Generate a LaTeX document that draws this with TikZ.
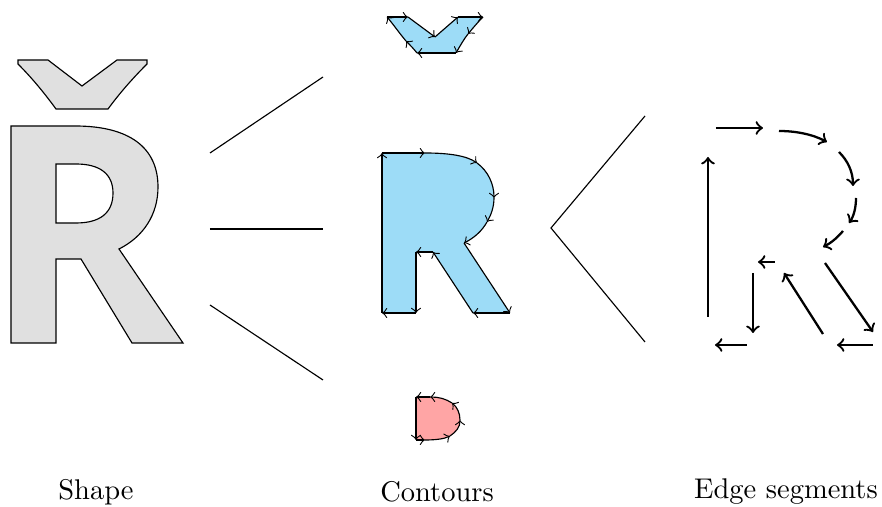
\documentclass[tikz,border=0pt]{standalone}
\usepackage{xcolor}
\usepackage{tikz}
\definecolor{shapegray}{HTML}{E0E0E0}
\definecolor{contourblue}{HTML}{9DDCF7}
\definecolor{holered}{HTML}{FFA5A5}

\tikzset{
  contour/.style={->, line width=0.4pt},
  segment/.style={->, thick},
}

\begin{document}
\begin{tikzpicture}[x=0.01233cm, y=-0.01233cm]
  \useasboundingbox (0,0) rectangle (882,507);

  % Shape -- the letter
  \draw[fill=shapegray, even odd rule]
    (11,126) -- (75,126) .. controls (130,126) and (158,148) .. (158,187)
    .. controls (158,215) and (143,237) .. (119,249)
    -- (183,343) -- (132,343) -- (81,259) -- (56,259) -- (56,343) -- (11,343) -- cycle
    (56,164) -- (76,164) .. controls (100,164) and (113,174) .. (113,193)
    .. controls (113,213) and (100,223) .. (76,223) -- (56,223) -- cycle;
  \draw[fill=shapegray] (18,60) -- (48,60) -- (82,86) -- (117,60) -- (147,60) -- (147,64)
    .. controls (132,79) and (119,94) .. (108,109) -- (56,109)
    .. controls (45,94) and (33,79) .. (18,64) -- cycle;

  % Fan between Shape and Contours
  \draw (210,153) -- (323,77);
  \draw (210,229) -- (323,229);
  \draw (210,305) -- (323,380);

  % Contours -- outer R
  \coordinate (r1) at (382,313);
  \coordinate (r2) at (382,153);
  \coordinate (r3) at (425,153);
  \coordinate (r4) at (477,163);
  \coordinate (r5) at (494,198);
  \coordinate (r6) at (487,222);
  \coordinate (r7) at (464,243);
  \coordinate (r8) at (510,313);
  \coordinate (r9) at (473,313);
  \coordinate (r10) at (433,252);
  \coordinate (r11) at (416,252);
  \coordinate (r12) at (416,313);
  \fill[contourblue] (r1) -- (r2) -- (r3) .. controls (450,153) and (467,156) .. (r4)
    .. controls (488,171) and (494,184) .. (r5) .. controls (494,207) and (491,215) .. (r6)
    .. controls (482,231) and (474,238) .. (r7) -- (r8) -- (r9) -- (r10) -- (r11) -- (r12) -- cycle;
  \draw[contour] (r1) -- (r2);
  \draw[contour] (r2) -- (r3);
  \draw[contour] (r3) .. controls (450,153) and (467,156) .. (r4);
  \draw[contour] (r4) .. controls (488,171) and (494,184) .. (r5);
  \draw[contour] (r5) .. controls (494,207) and (491,215) .. (r6);
  \draw[contour] (r6) .. controls (482,231) and (474,238) .. (r7);
  \draw[contour] (r7) -- (r8);
  \draw[contour] (r8) -- (r9);
  \draw[contour] (r9) -- (r10);
  \draw[contour] (r10) -- (r11);
  \draw[contour] (r11) -- (r12);
  \draw[contour] (r12) -- (r1);

  % Contours -- caron
  \coordinate (k1) at (387,17);
  \coordinate (k2) at (408,17);
  \coordinate (k3) at (435,37);
  \coordinate (k4) at (458,17);
  \coordinate (k5) at (483,17);
  \coordinate (k6) at (468,34);
  \coordinate (k7) at (456,53);
  \coordinate (k8) at (417,53);
  \coordinate (k9) at (406,41);
  \fill[contourblue] (k1) -- (k2) -- (k3) -- (k4) -- (k5)
    .. controls (478,22) and (473,28) .. (k6) .. controls (464,39) and (460,46) .. (k7)
    -- (k8) .. controls (413,48) and (410,45) .. (k9) .. controls (400,34) and (393,24) .. (k1);
  \draw[contour] (k1) -- (k2);
  \draw[contour] (k2) -- (k3);
  \draw[contour] (k3) -- (k4);
  \draw[contour] (k4) -- (k5);
  \draw[contour] (k5) .. controls (478,22) and (473,28) .. (k6);
  \draw[contour] (k6) .. controls (464,39) and (460,46) .. (k7);
  \draw[contour] (k7) -- (k8);
  \draw[contour] (k8) .. controls (413,48) and (410,45) .. (k9);
  \draw[contour] (k9) .. controls (400,34) and (393,24) .. (k1);

  % Contours -- hole
  \coordinate (d1) at (416,397);
  \coordinate (d2) at (416,440);
  \coordinate (d3) at (425,440);
  \coordinate (d4) at (450,436);
  \coordinate (d5) at (460,420);
  \coordinate (d6) at (452,403);
  \coordinate (d7) at (430,397);
  \fill[holered] (d1) -- (d2) -- (d3) .. controls (435,440) and (444,439) .. (d4)
    .. controls (456,432) and (460,427) .. (d5) .. controls (460,413) and (457,407) .. (d6)
    .. controls (446,399) and (439,397) .. (d7) -- cycle;
  \draw[contour] (d1) -- (d2);
  \draw[contour] (d2) -- (d3);
  \draw[contour] (d3) .. controls (435,440) and (444,439) .. (d4);
  \draw[contour] (d4) .. controls (456,432) and (460,427) .. (d5);
  \draw[contour] (d5) .. controls (460,413) and (457,407) .. (d6);
  \draw[contour] (d6) .. controls (446,399) and (439,397) .. (d7);
  \draw[contour] (d7) -- (d1);

  % Fan between Contours and Edge segments
  \draw (645,116) -- (551,228) -- (645,342);

  % Edge segments
  \draw[segment] (708,317) -- (708,157);
  \draw[segment] (716,128) -- (763,128);
  \draw[segment] (779,131) .. controls (795,131) and (812,134) .. (827,142);
  \draw[segment] (839,152) .. controls (848,161) and (853,172) .. (853,186);
  \draw[segment] (856,198) .. controls (856,207) and (854,216) .. (849,223);
  \draw[segment] (843,231) .. controls (837,238) and (831,243) .. (823,247);
  \draw[segment] (825,263) -- (873,332);
  \draw[segment] (873,345) -- (837,345);
  \draw[segment] (823,334) -- (784,273);
  \draw[segment] (775,262) -- (758,262);
  \draw[segment] (753,273) -- (753,333);
  \draw[segment] (747,345) -- (715,345);

  % Labels
  \node[anchor=base] (shapelabel) at (96,500) {Shape};
  \node[anchor=base] (contourslabel) at (437,502) {Contours};
  \node[anchor=base] (edgeslabel) at (786,499) {Edge segments};
\end{tikzpicture}
\end{document}
